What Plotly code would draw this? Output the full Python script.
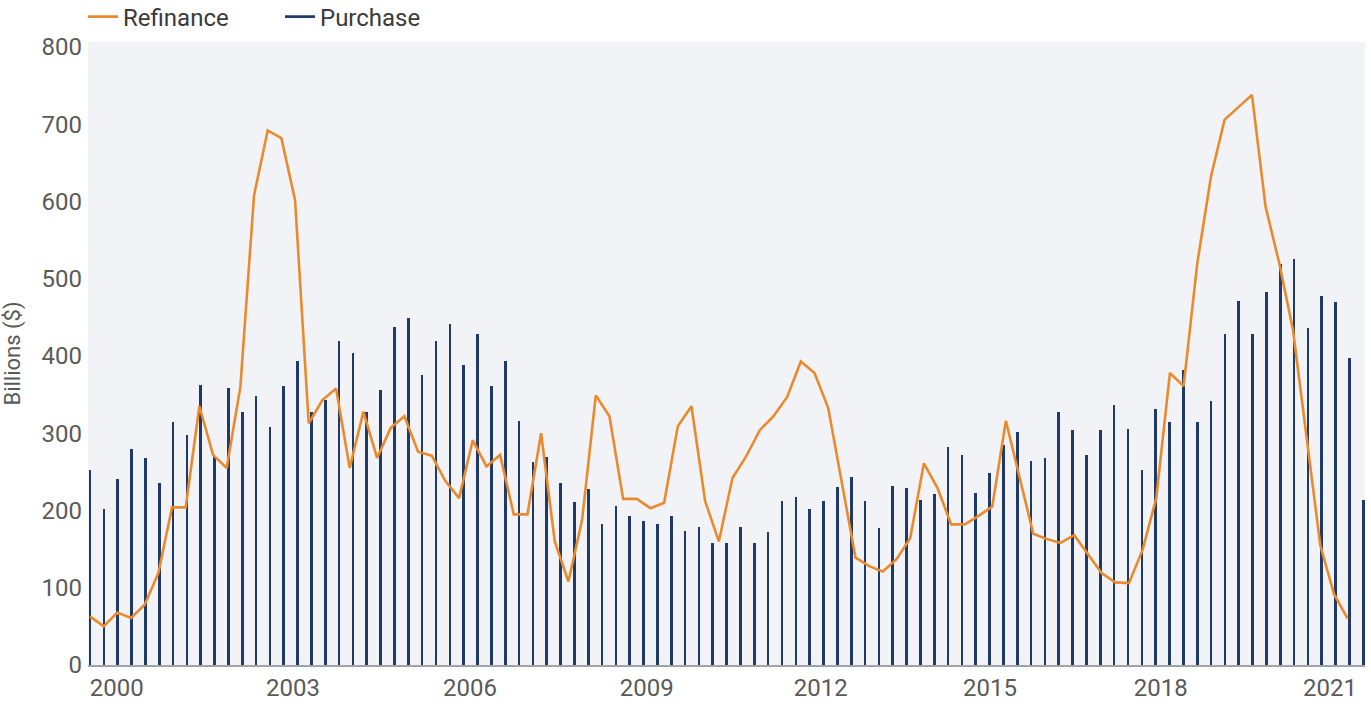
import plotly.graph_objects as go

# ---------------- data (quarterly) ----------------
purchase = [253, 202, 241, 279, 268, 235, 314, 298, 363, 271, 358, 328, 348, 308, 361, 394,
            327, 343, 419, 404, 327, 356, 437, 449, 376, 419, 442, 389, 429, 361, 394, 316,
            263, 269, 236, 211, 228, 182, 206, 193, 186, 183, 193, 174, 179, 158, 158, 179,
            158, 172, 212, 218, 202, 212, 231, 243, 212, 177, 232, 229, 213, 222, 282, 272,
            223, 248, 285, 301, 264, 268, 327, 304, 272, 304, 336, 306, 252, 332, 315, 382,
            315, 342, 428, 471, 428, 483, 519, 526, 436, 478, 470, 397, 213]

refinance = [63, 50, 68, 61, 78, 119, 204, 204, 335, 272, 255, 360, 608, 692, 682, 602,
             313, 343, 358, 255, 328, 268, 307, 322, 276, 271, 238, 216, 291, 257, 272, 195,
             195, 300, 160, 108, 188, 349, 322, 215, 215, 203, 210, 309, 335, 212, 160, 242,
             270, 304, 322, 347, 393, 378, 333, 238, 139, 128, 121, 137, 164, 261, 229, 182,
             182, 193, 205, 316, 242, 170, 163, 158, 168, 143, 119, 107, 106, 149, 216, 378,
             361, 520, 632, 706, 722, 738, 593, 520, 434, 291, 155, 92, 60]

year_labels = ["2000", "2003", "2006", "2009", "2012", "2015", "2018", "2021"]
y_ticks = [0, 100, 200, 300, 400, 500, 600, 700, 800]

# ---------------- geometry ----------------
W, H = 1371, 715
PLOT_L, PLOT_R = 88, 1365
BAR_X0, BAR_STEP = 90.0, 13.84      # px of first bar, px per bar
LINE_STEP = 13.67                    # px per line point
label_px = [116.7, 293, 470, 646.7, 820.8, 990, 1160.8, 1330]

bar_x = list(range(len(purchase)))
line_x = list(range(len(refinance)))

x1_range = [(PLOT_L - BAR_X0) / BAR_STEP, (PLOT_R - BAR_X0) / BAR_STEP]
x2_range = [(PLOT_L - BAR_X0) / LINE_STEP, (PLOT_R - BAR_X0) / LINE_STEP]
tickvals = [(p - BAR_X0) / BAR_STEP for p in label_px]

ORANGE = "#E98A2E"
NAVY = "#1F3A66"
FONT = "Roboto"

fig = go.Figure()
fig.add_trace(go.Bar(x=bar_x, y=purchase, marker=dict(color=NAVY, line=dict(width=0)),
                     width=0.19, showlegend=False, name="Purchase", xaxis="x"))
fig.add_trace(go.Scatter(x=line_x, y=refinance, mode="lines", name="Refinance",
                         line=dict(color=ORANGE, width=2.6), xaxis="x2"))
fig.add_trace(go.Scatter(x=[None], y=[None], mode="lines", name="Purchase",
                         line=dict(color=NAVY, width=2.6), xaxis="x2"))

fig.update_layout(
    width=W, height=H,
    margin=dict(l=PLOT_L, r=W - PLOT_R, t=42, b=50, autoexpand=False),
    paper_bgcolor="white",
    plot_bgcolor="#F2F3F6",
    font=dict(family=FONT, color="#5A5A5A"),
    showlegend=True,
    legend=dict(orientation="h", xref="container", yref="container",
                x=83 / W, xanchor="left", y=1 - 17 / H, yanchor="middle",
                font=dict(size=24, color="#3A3A3A", family=FONT),
                entrywidth=152, entrywidthmode="pixels",
                bgcolor="rgba(0,0,0,0)", borderwidth=0, traceorder="normal"),
    xaxis=dict(range=x1_range, tickmode="array", tickvals=tickvals, ticktext=year_labels,
               showgrid=False, zeroline=False, showline=True, linecolor="#A3A3A3",
               linewidth=2, ticks="", tickfont=dict(size=24, color="#5A5A5A")),
    xaxis2=dict(range=x2_range, overlaying="x", visible=False, showgrid=False),
    yaxis=dict(range=[0, 806.5], tickmode="array", tickvals=y_ticks,
               showgrid=False, zeroline=False, showline=False, ticks="",
               ticklabelstandoff=5,
               tickfont=dict(size=24, color="#5A5A5A"),
               title=dict(text="Billions ($)", font=dict(size=22, color="#5A5A5A"),
                          standoff=16)),
    bargap=0,
)

fig.write_html("out.html")
